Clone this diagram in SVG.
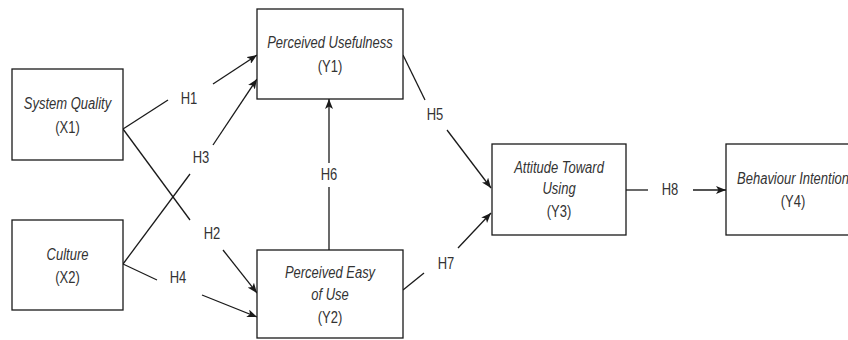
<svg xmlns="http://www.w3.org/2000/svg" width="848" height="340" viewBox="0 0 848 340">
<style>
.box{fill:#ffffff;stroke:#1a1a1a;stroke-width:1.3}
.t{font-family:"Liberation Sans",Arial,sans-serif;font-size:13px;fill:#333333;text-anchor:middle}
.i{font-style:italic}
.ln{fill:none;stroke:#1a1a1a;stroke-width:1.3}
.ar{marker-end:url(#arr)}
</style>
<defs>
<marker id="arr" viewBox="0 0 10 8" refX="10" refY="4" markerWidth="10" markerHeight="8" orient="auto" markerUnits="userSpaceOnUse">
<path d="M0,0 L10,4 L0,8 L2.5,4 z" fill="#1a1a1a"/>
</marker>
</defs>
<rect width="848" height="340" fill="#ffffff"/>

<g id="connectors">
<g id="e-h1">
<path class="ln" d="M123,129 L168,100"/>
<path class="ln ar" d="M213,84 L257,55"/>
<text class="t" transform="translate(189,104) scale(1,1.2)">H1</text>
</g>
<g id="e-h2">
<path class="ln" d="M123,129 L190,220"/>
<path class="ln ar" d="M223,250 L257,293"/>
<text class="t" transform="translate(212,239) scale(1,1.2)">H2</text>
</g>
<g id="e-h3">
<path class="ln" d="M123,264 L190,174"/>
<path class="ln ar" d="M213,145 L257,79"/>
<text class="t" transform="translate(201,163) scale(1,1.2)">H3</text>
</g>
<g id="e-h4">
<path class="ln" d="M123,264 L157,280"/>
<path class="ln ar" d="M202,295 L257,317"/>
<text class="t" transform="translate(178,283) scale(1,1.2)">H4</text>
</g>
<g id="e-h5">
<path class="ln" d="M403,55 L425,100"/>
<path class="ln ar" d="M447,130 L491,188"/>
<text class="t" transform="translate(435,120) scale(1,1.2)">H5</text>
</g>
<g id="e-h6">
<path class="ln" d="M329,250 L329,187"/>
<path class="ln ar" d="M329,163 L329,99"/>
<text class="t" transform="translate(329,180) scale(1,1.2)">H6</text>
</g>
<g id="e-h7">
<path class="ln" d="M403,290 L424,273"/>
<path class="ln ar" d="M458,248 L491,213"/>
<text class="t" transform="translate(446,269) scale(1,1.2)">H7</text>
</g>
<g id="e-h8">
<path class="ln" d="M626,190 L648,190"/>
<path class="ln ar" d="M693,190 L726,190"/>
<text class="t" transform="translate(670,195) scale(1,1.2)">H8</text>
</g>
</g>

<g id="x1">
<rect class="box" x="12" y="69" width="111" height="91"/>
<text class="t i" transform="translate(67.5,109) scale(1,1.2)">System Quality</text>
<text class="t" transform="translate(67.5,133) scale(1,1.2)">(X1)</text>
</g>
<g id="x2">
<rect class="box" x="12" y="220" width="111" height="90"/>
<text class="t i" transform="translate(67.5,260) scale(1,1.2)">Culture</text>
<text class="t" transform="translate(67.5,283) scale(1,1.2)">(X2)</text>
</g>
<g id="y1">
<rect class="box" x="257" y="9" width="146" height="90"/>
<text class="t i" transform="translate(330,48) scale(1,1.2)">Perceived Usefulness</text>
<text class="t" transform="translate(330,72) scale(1,1.2)">(Y1)</text>
</g>
<g id="y2">
<rect class="box" x="257" y="250" width="146" height="88"/>
<text class="t i" transform="translate(330,278) scale(1,1.2)">Perceived Easy</text>
<text class="t i" transform="translate(330,300) scale(1,1.2)">of Use</text>
<text class="t" transform="translate(330,323) scale(1,1.2)">(Y2)</text>
</g>
<g id="y3">
<rect class="box" x="492" y="144" width="134" height="91"/>
<text class="t i" transform="translate(559,173) scale(1,1.2)">Attitude Toward</text>
<text class="t i" transform="translate(559,194) scale(1,1.2)">Using</text>
<text class="t" transform="translate(559,217) scale(1,1.2)">(Y3)</text>
</g>
<g id="y4">
<rect class="box" x="726" y="144" width="134" height="91"/>
<text class="t i" transform="translate(793,184) scale(1,1.2)">Behaviour Intention</text>
<text class="t" transform="translate(793,207) scale(1,1.2)">(Y4)</text>
</g>
</svg>
